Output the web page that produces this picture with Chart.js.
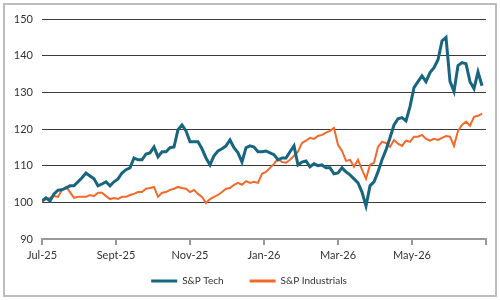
<!DOCTYPE html>
<html lang="en">
<head>
    <meta charset="UTF-8">
    <title>S&amp;P Tech vs Industrials</title>
    <script src="https://cdn.jsdelivr.net/npm/chart.js"></script>
    <style>
        body { margin: 0; background: #fff; }
        .wrap { position: relative; width: 500px; height: 300px; }
        .frame { position: absolute; left: 3px; top: 3px; width: 490px; height: 290px; border: 2px solid #bdbdbd; }
        #perfChart { position: absolute; left: 0; top: 0; }
    </style>
</head>
<body>
    <div class="wrap">
        <div class="frame"></div>
        <canvas id="perfChart" width="500" height="300"></canvas>
    </div>

    <script>
        // month ticks every 2 months, last tick (Jul-26) has no label
        const tickLabels = ['Jul-25', 'Sept-25', 'Nov-25', 'Jan-26', 'Mar-26', 'May-26', ''];

        // indexed to 100, sampled about every 2.5 trading days
        const sampleStep = 4 / 37; // months between samples

        const techValues = [
            100.4, 101.2, 100.4, 102.3, 103.3, 103.4, 103.9, 104.5, 104.5, 105.6,
            106.7, 108.0, 107.2, 106.4, 104.5, 105.0, 105.6, 104.5, 105.6, 106.4,
            108.0, 108.9, 109.4, 112.1, 111.6, 111.6, 113.2, 113.5, 115.1, 112.4,
            113.8, 113.8, 114.9, 115.1, 119.8, 121.1, 119.5, 116.5, 116.5, 116.5,
            114.6, 112.1, 110.2, 112.7, 114.0, 114.6, 115.4, 117.0, 114.9, 113.5,
            111.0, 114.9, 115.4, 115.1, 113.8, 113.8, 114.0, 113.5, 113.0, 111.6,
            112.1, 112.1, 113.8, 115.4, 110.2, 111.0, 111.3, 109.7, 110.5, 110.0,
            110.2, 109.4, 109.4, 107.8, 108.0, 109.4, 108.3, 107.5, 106.4, 105.3,
            102.8, 99.0, 104.5, 105.6, 108.3, 111.6, 114.3, 117.6, 121.1, 122.8,
            123.1, 122.2, 126.1, 131.3, 132.9, 134.5, 132.9, 135.4, 136.7, 138.9,
            144.0, 145.0, 133.0, 130.2, 137.3, 138.1, 137.8, 132.9, 131.0, 135.6,
            131.8
        ];

        const industrialsValues = [
            100.1, 100.9, 101.2, 101.7, 101.5, 103.4, 104.2, 102.8, 101.2, 101.5,
            101.5, 101.5, 102.0, 101.7, 102.6, 102.6, 101.7, 100.9, 101.2, 100.9,
            101.5, 101.5, 102.0, 102.3, 102.8, 102.8, 103.7, 103.9, 104.2, 101.5,
            102.6, 102.8, 103.4, 103.7, 104.2, 103.9, 103.7, 102.8, 103.4, 102.3,
            101.5, 99.8, 100.9, 101.5, 102.0, 102.8, 103.7, 103.9, 104.8, 105.3,
            104.8, 105.8, 105.3, 105.6, 105.3, 107.8, 108.3, 109.4, 110.5, 111.9,
            111.0, 110.8, 111.6, 112.7, 113.8, 116.2, 116.8, 117.6, 117.3, 118.1,
            118.4, 119.0, 119.5, 120.3, 115.7, 114.0, 111.3, 111.6, 109.7, 111.6,
            108.9, 106.4, 110.2, 110.8, 115.1, 116.5, 116.2, 115.1, 117.0, 116.0,
            115.4, 116.8, 116.5, 117.9, 117.9, 118.4, 117.3, 116.8, 117.3, 117.0,
            117.6, 118.1, 117.9, 115.4, 119.5, 121.1, 122.0, 120.9, 123.3, 123.6,
            124.2
        ];

        const toPoints = values => values.map((v, i) => ({ x: i * sampleStep, y: v }));

        const textColor = '#333';
        const baseFont = { family: 'Lato', size: 11 };

        // legend padding is wide (item gap), so pull the legend top up a bit
        // (bottom stays put so the legend's clip box still holds the items)
        const legendNudge = {
            id: 'legendNudge',
            afterLayout(chart) {
                chart.legend.top -= 19;
                chart.legend.left += 12;
            }
        };

        new Chart(document.getElementById('perfChart'), {
            type: 'line',
            data: {
                datasets: [
                    {
                        label: 'S&P Tech',
                        data: toPoints(techValues),
                        borderColor: '#17657f',
                        backgroundColor: '#17657f',
                        borderWidth: 3,
                        pointRadius: 0,
                        tension: 0
                    },
                    {
                        label: 'S&P Industrials',
                        data: toPoints(industrialsValues),
                        borderColor: '#f4692a',
                        backgroundColor: '#f4692a',
                        borderWidth: 2,
                        pointRadius: 0,
                        tension: 0
                    }
                ]
            },
            plugins: [legendNudge],
            options: {
                responsive: false,
                animation: false,
                layout: { padding: { left: 0, right: 14, top: 19, bottom: 4 } },
                scales: {
                    x: {
                        type: 'linear',
                        min: 0,
                        max: 12,
                        afterFit: scale => { scale.height = 30; },
                        ticks: {
                            stepSize: 2,
                            padding: 4,
                            maxRotation: 0,
                            color: textColor,
                            font: baseFont,
                            callback: v => tickLabels[v / 2]
                        },
                        grid: { drawOnChartArea: false, drawTicks: true, tickLength: 6, color: '#999', lineWidth: 2 },
                        border: { display: true, color: '#999', width: 2 }
                    },
                    y: {
                        min: 90,
                        max: 150,
                        afterFit: scale => { scale.width = 42; },
                        ticks: { stepSize: 10, padding: 9, color: textColor, font: baseFont },
                        grid: {
                            drawTicks: false,
                            color: c => c.tick.value === 90 ? 'rgba(0,0,0,0)' : '#3a3a3a',
                            lineWidth: 1
                        },
                        border: { display: false }
                    }
                },
                plugins: {
                    tooltip: { enabled: false },
                    legend: {
                        position: 'bottom',
                        maxHeight: 27,
                        labels: {
                            usePointStyle: true,
                            pointStyleWidth: 26,
                            padding: 26,
                            color: textColor,
                            font: { family: 'Lato', size: 10 },
                            generateLabels: chart => chart.data.datasets.map((ds, i) => ({
                                text: ds.label,
                                fillStyle: ds.borderColor,
                                strokeStyle: ds.borderColor,
                                lineWidth: 3,
                                pointStyle: 'line',
                                fontColor: textColor,
                                hidden: false,
                                datasetIndex: i
                            }))
                        }
                    }
                }
            }
        });
    </script>
</body>
</html>
